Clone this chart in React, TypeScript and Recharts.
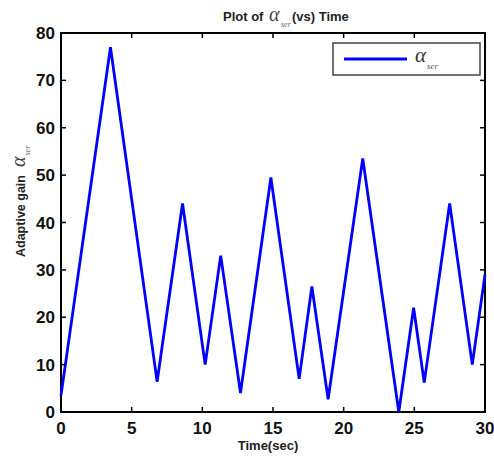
import React from "react";
import { LineChart, Line, XAxis, YAxis, ReferenceArea, Legend } from "recharts";

// Adaptive gain alpha_ser sampled at its turning points
const timeSec = [0, 3.5, 6.8, 8.6, 10.2, 11.3, 12.7, 14.85, 16.85, 17.75, 18.9, 21.35, 23.9, 24.95, 25.7, 27.5, 29.1, 30];
const alphaSer = [3.5, 77, 6.4, 44, 10, 33, 4, 49.5, 7, 26.5, 2.7, 53.5, 0, 22, 6.2, 44, 10, 29];

const xTicks = [0, 5, 10, 15, 20, 25, 30];
const yTicks = [0, 10, 20, 30, 40, 50, 60, 70, 80];

const data = timeSec.map((t, i) => ({ t, a: alphaSer[i] }));

const W = 494;
const H = 459;
const PLOT_LEFT = 61;
const PLOT_RIGHT = 485;
const PLOT_TOP = 33;
const PLOT_BOTTOM = 412;
const TICK_LEN = 5;

const SANS = "Arial, 'Liberation Sans', sans-serif";
const SERIF = "'Times New Roman', 'Liberation Serif', serif";

const XTick = (props: any) => {
  const { x, payload } = props;
  return (
    <g>
      <line x1={x} x2={x} y1={PLOT_BOTTOM} y2={PLOT_BOTTOM - TICK_LEN} stroke="#000" strokeWidth={1.5} />
      <line x1={x} x2={x} y1={PLOT_TOP} y2={PLOT_TOP + TICK_LEN} stroke="#000" strokeWidth={1.5} />
      <text x={x} y={PLOT_BOTTOM + 22} textAnchor="middle" fontFamily={SANS} fontWeight="bold" fontSize={17} fill="#111">
        {payload.value}
      </text>
    </g>
  );
};

const YTick = (props: any) => {
  const { y, payload } = props;
  return (
    <g>
      <line x1={PLOT_LEFT} x2={PLOT_LEFT + TICK_LEN} y1={y} y2={y} stroke="#000" strokeWidth={1.5} />
      <line x1={PLOT_RIGHT} x2={PLOT_RIGHT - TICK_LEN} y1={y} y2={y} stroke="#000" strokeWidth={1.5} />
      <text x={PLOT_LEFT - 6} y={y} dy="0.36em" textAnchor="end" fontFamily={SANS} fontWeight="bold" fontSize={17} fill="#111">
        {payload.value}
      </text>
    </g>
  );
};

const LegendBox = () => (
  <svg width={152} height={36} style={{ display: "block" }}>
    <rect x={1} y={1} width={147} height={32} fill="#fff" stroke="#444" strokeWidth={1.5} />
    <line x1={12} x2={75} y1={17} y2={17} stroke="#0000ff" strokeWidth={3.2} />
    <text x={83} y={20} fontFamily={SERIF} fontStyle="italic" fontSize={21} fill="#333">
      α
    </text>
    <text x={95} y={27} fontFamily={SERIF} fontStyle="italic" fontSize={9} fill="#555">
      ser
    </text>
  </svg>
);

export default function App() {
  return (
    <div style={{ position: "absolute", left: 0, top: 0, width: W, height: H, background: "#fff" }}>
      <LineChart
        width={W}
        height={H}
        data={data}
        margin={{ top: PLOT_TOP, right: W - PLOT_RIGHT, left: 0, bottom: 0 }}
      >
        <XAxis
          dataKey="t"
          type="number"
          domain={[0, 30]}
          ticks={xTicks}
          interval={0}
          height={H - PLOT_BOTTOM}
          axisLine={false}
          tickLine={false}
          tickSize={0}
          tickMargin={0}
          tick={<XTick />}
        />
        <YAxis
          type="number"
          domain={[0, 80]}
          ticks={yTicks}
          interval={0}
          width={PLOT_LEFT}
          axisLine={false}
          tickLine={false}
          tickSize={0}
          tickMargin={0}
          tick={<YTick />}
        />
        <ReferenceArea x1={0} x2={30} y1={0} y2={80} fill="none" stroke="#000" strokeWidth={2} ifOverflow="visible" />
        <Line
          dataKey="a"
          type="linear"
          stroke="#0000ff"
          strokeWidth={2.8}
          dot={false}
          activeDot={false}
          isAnimationActive={false}
        />
        <Legend
          layout="horizontal"
          verticalAlign="middle"
          align="center"
          content={<LegendBox />}
          wrapperStyle={{ position: "absolute", left: 332, top: 42, width: 152, height: 36 }}
        />
      </LineChart>
      <svg
        width={W}
        height={H}
        style={{ position: "absolute", left: 0, top: 0, pointerEvents: "none" }}
      >
        <text y={21} fontFamily={SANS} fontWeight="bold" fontSize={13} fill="#222">
          <tspan x={223}>Plot of</tspan>
          <tspan x={269} fontFamily={SERIF} fontStyle="italic" fontWeight="normal" fontSize={20} fill="#444">α</tspan>
          <tspan x={281} dy={6} fontFamily={SERIF} fontStyle="italic" fontWeight="normal" fontSize={8} fill="#666">ser</tspan>
          <tspan x={292} dy={-6}>(vs) Time</tspan>
        </text>
        <text x={268} y={450} textAnchor="middle" fontFamily={SANS} fontWeight="bold" fontSize={13} fill="#222">
          Time(sec)
        </text>
        <g transform="translate(25, 257) rotate(-90)">
          <text x={0} y={0} fontFamily={SANS} fontWeight="bold" fontSize={12.5} fill="#222">
            Adaptive gain
            <tspan dx={8} fontFamily={SERIF} fontStyle="italic" fontWeight="normal" fontSize={20} fill="#444">α</tspan>
            <tspan dx={1} dy={5} fontFamily={SERIF} fontStyle="italic" fontWeight="normal" fontSize={8} fill="#666">ser</tspan>
          </text>
        </g>
      </svg>
    </div>
  );
}
